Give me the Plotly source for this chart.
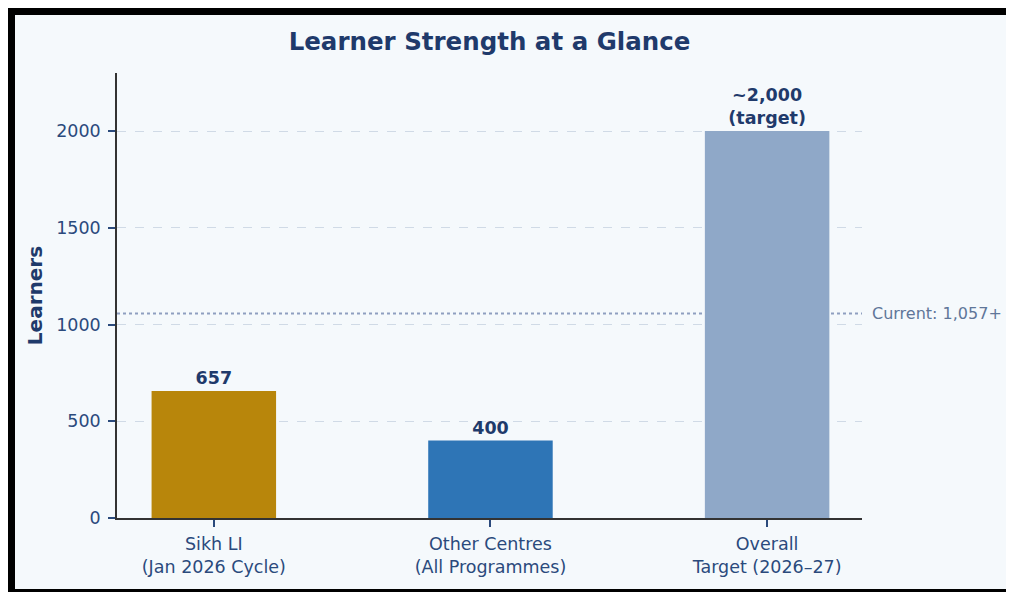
import plotly.graph_objects as go

categories = ["Sikh LI<br>(Jan 2026 Cycle)", "Other Centres<br>(All Programmes)", "Overall<br>Target (2026–27)"]
values = [657, 400, 2000]
bar_labels = ["657", "400", "~2,000<br>(target)"]
bar_colors = ["#b8860b", "#2e75b6", "#8fa8c8"]
current_value = 1057
current_label = "Current: 1,057+"
y_ticks = [0, 500, 1000, 1500, 2000]

# page body adds an 8px offset; layout is expressed in figure pixels
W, H = 1100, 592
L, R, T, B = 109, 854, 65, 510

def px_x(p):
    return (p - L) / (R - L)

def px_y(p):
    return (B - p) / (B - T)

NAVY = "#1f3a6b"
TICK = "#2b4a7c"
FONT = "DejaVu Sans"

fig = go.Figure()
fig.add_trace(go.Bar(
    x=[0, 1, 2], y=values, width=0.45,
    marker=dict(color=bar_colors, line=dict(width=0)),
    text=bar_labels, textposition="outside",
    textfont=dict(family=FONT, size=17.5, color=NAVY, weight="bold"),
    cliponaxis=False, hoverinfo="skip",
))

shapes = [
    dict(type="rect", xref="paper", yref="paper", x0=px_x(7), x1=px_x(1300), y0=px_y(7), y1=px_y(581),
         fillcolor="#f5f9fc", line=dict(width=0), layer="below"),
    dict(type="line", xref="paper", yref="y", x0=0, x1=1, y0=current_value, y1=current_value,
         line=dict(color="#8f9fc0", width=2, dash="dot"), layer="between"),
]

fig.update_layout(
    width=W, height=H,
    margin=dict(l=L, r=W - R, t=T, b=H - B, pad=0),
    paper_bgcolor="#000000", plot_bgcolor="rgba(0,0,0,0)",
    font=dict(family=FONT, color=TICK, size=17.5),
    showlegend=False,
    shapes=shapes,
    title=dict(text="Learner Strength at a Glance", x=0.5, xref="paper", xanchor="center",
               y=1 - 33 / H, yref="container", yanchor="middle",
               font=dict(family=FONT, size=24.5, color=NAVY, weight="bold")),
    annotations=[dict(x=1, y=current_value, xref="paper", yref="y", text=current_label,
                      xanchor="left", yanchor="middle", xshift=8, showarrow=False,
                      font=dict(family=FONT, size=16, color="#5f7699"))],
)

fig.update_xaxes(
    range=[-0.35, 2.343], tickmode="array", tickvals=[0, 1, 2], ticktext=categories,
    showline=True, linecolor="#333333", linewidth=1.5,
    ticks="outside", ticklen=7, tickcolor=TICK, tickwidth=1.5,
    showgrid=False, zeroline=False, ticklabelstandoff=2,
    tickfont=dict(family=FONT, size=17.5, color=TICK),
)
fig.update_yaxes(
    range=[0, 2300], tickmode="array", tickvals=y_ticks,
    showline=True, linecolor="#333333", linewidth=1.5,
    ticks="outside", ticklen=7, tickcolor=TICK, tickwidth=1.5,
    showgrid=True, gridcolor="#d0dae6", gridwidth=1, griddash="dash",
    zeroline=False, ticklabelstandoff=4,
    tickfont=dict(family=FONT, size=17.5, color=TICK),
    title=dict(text="Learners", standoff=8, font=dict(family=FONT, size=20, color=NAVY, weight="bold")),
)

fig.write_html("out.html")
